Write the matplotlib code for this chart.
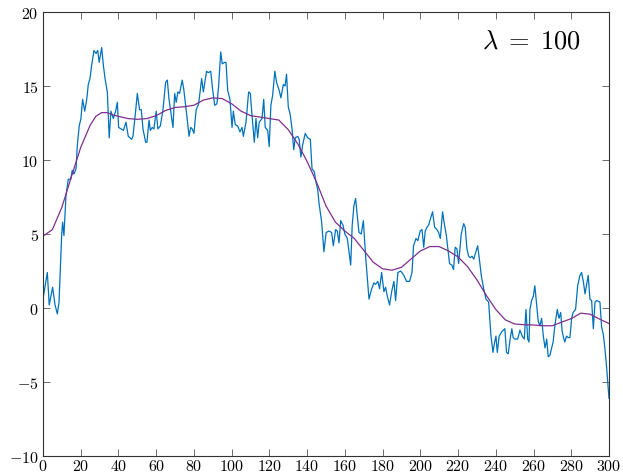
import matplotlib
matplotlib.use("Agg")
import matplotlib.pyplot as plt

x_obs = [0, 2.3, 3.3, 5.1, 6.4, 7.6, 8.5, 9.9, 10.4, 11.1, 12.2, 13.4, 14.7, 15.5, 16.4,
         17.5, 18.2, 19.2, 20.1, 21.0, 22.1, 23.2, 24.0, 24.9, 25.8, 27.0, 28.1, 29.0,
         29.8, 31.1, 32.0, 32.9, 34.1, 35.1, 36.0, 37.3, 38.5, 39.4, 40.1, 41.3, 42.6,
         44.0, 45.2, 47.0,
         47.7, 49.1, 50.0, 51.2, 52.1, 53.0, 54.4, 55.1, 56.2, 56.9, 57.9, 58.8, 60.0,
         60.9, 62.2, 63.6, 65.0, 65.9, 66.8, 68.0, 68.9, 69.8, 70.6, 71.5, 72.4, 73.8,
         74.6, 75.6, 76.5, 77.4, 78.3, 79.1, 80.0, 81.2, 82.5, 84.1, 85.0, 86.7, 87.6,
         88.9, 89.9, 91.0, 92.2, 93.1, 94.2, 95.0, 96.3,
         97.0, 97.9, 99.1, 100.2, 100.9, 101.9, 103.2, 104.4, 105.5, 106.2, 107.6, 109.0,
         109.9, 110.8, 112.0, 112.9, 113.8, 114.6, 116.1, 117.0, 117.8, 119.1, 119.9,
         120.8, 121.7, 122.9, 123.8, 125.2, 126.1, 127.4, 128.3, 129.1, 130.0, 131.0,
         132.0, 132.9, 133.7, 135.0, 135.8, 136.7, 137.6, 139.0, 140.3, 141.7, 142.6,
         143.8, 144.7, 145.6,
         146.3, 147.7, 148.9, 150.1, 151.6, 153.0, 153.9, 155.1, 156.0, 156.9, 157.8,
         159.0, 160.0, 161.3, 162.2, 163.1, 163.9, 164.8, 165.7, 166.6, 167.5, 168.7,
         169.8, 171.0, 172.8, 174.0, 175.4, 176.3, 177.5, 178.4, 179.5, 180.7, 181.6,
         182.5, 183.7, 184.8, 186.0, 186.9, 188.1, 189.6, 191.3, 192.7, 194.3,
         195.6, 196.4, 197.7, 198.7, 199.9, 200.9, 201.8, 202.6, 203.5, 204.4, 205.3,
         206.5, 207.6, 208.8, 209.7, 210.6, 211.8, 212.7, 213.7, 214.6, 215.5, 216.7,
         217.6, 218.5, 219.4, 220.3, 221.7, 223.0, 223.8, 224.7, 225.6, 226.5, 227.4,
         228.3, 229.5, 230.4, 231.3, 232.3, 233.6, 234.8, 236.2, 237.4, 238.5, 239.4,
         240.1, 240.8, 241.8, 243.2,
         244.8, 245.7, 246.6, 247.6, 248.5, 249.2, 250.1, 251.6, 252.8, 254.0, 255.1,
         256.0, 256.9, 257.6, 258.1, 259.0, 259.9, 260.7, 261.6, 262.5, 263.4, 264.3,
         265.2, 266.1, 267.0, 267.8, 268.7, 269.6, 270.4, 271.3, 272.6, 273.5, 274.4,
         275.2, 276.1, 276.6, 277.5, 278.4, 279.3, 280.2, 281.0, 282.3, 283.4, 284.6,
         285.5, 286.5, 287.3, 288.2, 289.0, 289.9, 290.8, 291.7, 292.6, 293.5, 295.2,
         296.1, 297.0, 297.9, 298.8, 300.0]
y_obs = [0.6, 2.4, 0.2, 1.4, 0.2, -0.4, 0.4, 4.9, 5.8, 4.9, 7.6, 8.7, 8.7, 9.3, 9.05,
         9.4, 11.0, 12.3, 12.8, 14.1, 13.3, 14.1, 15.1, 15.5, 16.4, 17.4, 17.2, 17.4,
         16.6, 17.6, 16.4, 15.5, 14.6, 11.5, 13.3, 12.8, 13.3, 13.9, 12.2, 12.1, 12.0,
         12.55, 11.6, 11.4,
         11.6, 13.3, 14.5, 13.4, 13.4, 12.1, 11.2, 11.2, 12.7, 12.0, 12.2, 12.1, 13.3,
         12.1, 12.3, 13.4, 15.25, 15.4, 14.1, 13.0, 12.2, 14.5, 13.9, 14.6, 14.5, 15.4,
         14.8, 13.7, 12.7, 11.6, 12.2, 12.1, 11.8, 13.4, 13.8, 15.5, 14.6, 16.0, 15.9,
         16.0, 14.8, 13.7, 13.8, 15.0, 17.3, 16.5, 16.6,
         16.6, 14.7, 14.1, 12.2, 13.3, 12.4, 12.3, 11.9, 12.2, 11.6, 12.55, 14.6,
         14.5, 13.0, 11.2, 12.8, 11.5, 12.55, 12.8, 14.1, 12.2, 12.0, 10.9,
         13.7, 14.35, 16.0, 15.25, 14.7, 14.2, 15.1, 15.0, 15.8, 13.6, 13.1,
         12.1, 10.7, 11.5, 11.6, 11.4, 10.2, 11.0, 11.8, 11.5, 11.4, 9.4,
         9.2, 8.5, 8.0,
         7.1, 5.8, 3.8, 5.1, 5.2, 5.1, 4.2, 5.3, 5.2, 4.4, 5.9,
         5.6, 5.0, 4.7, 3.8, 2.9, 5.6, 6.9, 7.4, 6.2, 5.1, 5.0,
         5.9, 3.5, 0.6, 1.2, 1.7, 1.6, 1.8, 1.3, 2.4, 1.1, 1.4,
         0.8, 0.2, 1.1, 1.8, 0.5, 2.4, 2.5, 2.2, 1.8, 1.8,
         2.4, 4.2, 4.7, 4.55, 5.2, 5.3, 4.1, 5.2, 5.45, 5.6, 6.0,
         6.5, 5.45, 5.3, 5.1, 4.7, 6.5, 5.7, 5.0, 4.0, 3.0, 2.9,
         2.6, 4.1, 4.0, 3.0, 5.0, 5.7, 5.45, 4.0, 3.5, 3.4, 3.5,
         3.3, 3.8, 4.2, 3.3, 2.2, 1.3, 0.6, 0.4, -1.8, -3.0, -2.3,
         -1.9, -3.0, -1.9, -1.6,
         -1.4, -3.0, -3.1, -2.1, -1.4, -2.0, -2.1, -2.1, -1.5, -1.9, -2.1,
         -0.1, -2.1, -2.3, -0.1, 0.5, 0.8, 1.5, 0.3, -0.9, -1.2, -0.7,
         -1.9, -2.7, -2.1, -3.3, -3.2, -2.7, -2.3, -1.2, -0.1, -0.7, -0.3,
         -1.6, -2.1, -2.3, -1.9, -2.0, -2.0, -0.7, -0.3, -0.1, 1.5, 2.2,
         2.4, 1.7, 0.95, 1.6, 2.2, 0.6, 0.5, -1.4, 0.4, 0.5, 0.4,
         -1.3, -1.8, -2.8, -4.1, -6.1]

# smoothed trend
x_trend = [0, 5, 10, 15, 20, 25, 28, 31, 34, 37, 40, 45, 50, 55, 60, 65, 70, 75, 80,
           85, 90, 95, 100, 105, 110, 115, 120, 125, 130, 135, 140, 145, 150, 155, 160,
           165, 170, 175, 180, 185, 190, 195, 200, 205, 210, 215, 220, 225, 230, 235,
           240, 245, 250, 255, 260, 265, 270, 275, 280, 285, 290, 295, 300]
y_trend = [4.85, 5.3, 6.8, 8.85, 10.85, 12.35, 12.95, 13.2, 13.2, 13.05, 12.95, 12.8,
           12.75, 12.8, 13.0, 13.35, 13.55, 13.6, 13.7, 14.05, 14.2, 14.15, 13.8, 13.3,
           13.0, 12.9, 12.8, 12.7, 12.05, 11.1, 9.9, 8.5, 6.9, 5.8, 5.2, 4.7, 3.9, 3.1,
           2.65, 2.55, 2.75, 3.3, 3.85, 4.15, 4.15, 3.85, 3.45, 2.8, 1.9, 0.85, -0.1,
           -0.8, -1.08, -1.13, -1.15, -1.2, -1.2, -0.95, -0.72, -0.35, -0.42, -0.75, -1.05]

x_ticks = list(range(0, 301, 20))
y_ticks = list(range(-10, 21, 5))

plt.rcParams['mathtext.fontset'] = 'cm'

fig = plt.figure(figsize=(6.23, 4.77), dpi=100)
ax = fig.add_axes([0.069, 0.042, 0.9085, 0.9307])

ax.plot(x_obs, y_obs, color='#0072BD', lw=0.9)
ax.plot(x_trend, y_trend, color='#7E2F8E', lw=0.9)

ax.set_xlim(0, 300)
ax.set_ylim(-10, 20)
ax.set_xticks(x_ticks)
ax.set_yticks(y_ticks)
ax.set_xticklabels(['$%d$' % t for t in x_ticks])
ax.set_yticklabels(['$%d$' % t for t in y_ticks])
ax.tick_params(direction='in', length=5, width=0.6, color='#555555',
               top=True, right=True, labelsize=11.5)
ax.tick_params(axis='x', pad=1.5)
ax.tick_params(axis='y', pad=3)
for s in ax.spines.values():
    s.set_color('#333333')
    s.set_linewidth(0.8)

ax.text(0.949, 0.935, r'$\lambda\;=\;100$', transform=ax.transAxes,
        ha='right', va='center', fontsize=19)

fig.savefig('out.png', dpi=100)
